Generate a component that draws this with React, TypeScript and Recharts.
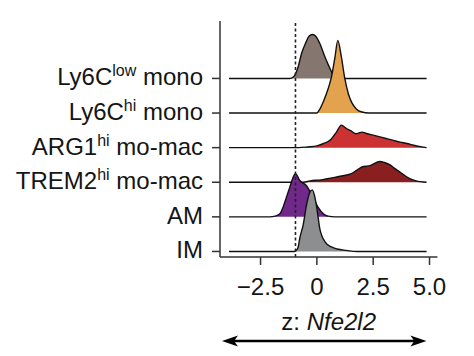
import React from 'react'
import { ComposedChart, Area, Line, XAxis, YAxis } from 'recharts'

// rows from bottom (offset 0) to top
const rowBase = ['IM', 'AM', 'TREM2', 'ARG1', 'Ly6C', 'Ly6C']
const rowSup = ['', '', 'hi', 'hi', 'hi', 'low']
const rowSuffix = ['', '', ' mo-mac', ' mo-mac', ' mono', ' mono']
const rowColors = ['#8d8e90', '#70288a', '#8a1f20', '#cd3232', '#e2a24e', '#857770']

const xTickValues = [-2.5, 0, 2.5, 5]
const xTickLabels = ['\u22122.5', '0', '2.5', '5.0']
const cutoff = -0.95
const yDomain = [-0.16, 6.66]

// [z, density] pairs, density in row heights
const imDensity: [number, number][] = [[-3.9, 0], [-1.0, 0], [-0.9, 0.04], [-0.83, 0.13], [-0.76, 0.38], [-0.61, 0.76], [-0.46, 1.34], [-0.32, 1.7], [-0.2, 1.78], [-0.1, 1.6], [-0.01, 1.29], [0.13, 0.66], [0.36, 0.28], [0.65, 0.13], [0.9, 0.07], [1.3, 0.03], [1.8, 0], [4.87, 0]]
const amDensity: [number, number][] = [[-3.9, 0], [-2.1, 0], [-1.85, 0.02], [-1.64, 0.09], [-1.5, 0.28], [-1.35, 0.57], [-1.2, 0.86], [-1.05, 1.15], [-0.95, 1.25], [-0.76, 1.05], [-0.46, 0.9], [-0.2, 0.6], [0.05, 0.28], [0.3, 0.08], [0.5, 0.02], [0.8, 0], [4.87, 0]]
const trem2Density: [number, number][] = [[-3.9, 0], [-0.6, 0], [-0.3, 0.04], [0.2, 0.07], [0.6, 0.12], [1.1, 0.18], [1.5, 0.24], [1.8, 0.36], [2.0, 0.44], [2.36, 0.48], [2.8, 0.6], [3.0, 0.57], [3.25, 0.5], [3.45, 0.4], [3.7, 0.29], [4.1, 0.11], [4.4, 0.04], [4.87, 0]]
const arg1Density: [number, number][] = [[-3.9, 0], [-0.8, 0], [-0.4, 0.02], [0, 0.05], [0.3, 0.12], [0.58, 0.21], [0.87, 0.45], [1.09, 0.65], [1.3, 0.56], [1.5, 0.49], [1.75, 0.4], [1.85, 0.42], [2.0, 0.45], [2.2, 0.41], [2.5, 0.36], [2.8, 0.31], [3.1, 0.26], [3.4, 0.21], [3.7, 0.16], [4.0, 0.12], [4.3, 0.07], [4.6, 0.03], [4.87, 0]]
const ly6cHiDensity: [number, number][] = [[-3.9, 0], [0, 0], [0.1, 0.08], [0.3, 0.35], [0.5, 0.7], [0.65, 1.05], [0.8, 1.6], [0.93, 2.1], [1.08, 1.65], [1.24, 1.0], [1.4, 0.55], [1.55, 0.3], [1.75, 0.12], [2.0, 0.03], [2.3, 0], [4.87, 0]]
const ly6cLowDensity: [number, number][] = [[-3.9, 0], [-1.2, 0], [-1.05, 0.04], [-0.95, 0.13], [-0.83, 0.34], [-0.68, 0.72], [-0.5, 1.02], [-0.35, 1.22], [-0.2, 1.27], [-0.05, 1.22], [0.13, 1.01], [0.36, 0.62], [0.58, 0.29], [0.73, 0.1], [0.9, 0.02], [1.1, 0], [4.87, 0]]

const densities = [imDensity, amDensity, trem2Density, arg1Density, ly6cHiDensity, ly6cLowDensity]

const FONT = '"Liberation Sans", Arial, Helvetica, sans-serif'
const INK = '#151515'

const RowTick = (props: any) => {
  const { x, y, payload } = props
  const i = payload.value
  return (
    <text x={x} y={y} dy={7} textAnchor="end" fontSize={24} fill={INK} fontFamily={FONT} style={{ whiteSpace: 'pre' }}>
      <tspan>{rowBase[i]}</tspan>
      {rowSup[i] ? <tspan dy={-9} fontSize={16}>{rowSup[i]}</tspan> : null}
      {rowSuffix[i] ? <tspan dy={rowSup[i] ? 9 : 0}>{rowSuffix[i]}</tspan> : null}
    </text>
  )
}

const AxisTitle = (props: any) => {
  const { viewBox } = props
  const cx = viewBox.x + viewBox.width / 2
  const ty = viewBox.y + 73
  const ay = viewBox.y + 84
  const x1 = viewBox.x + 2
  const x2 = viewBox.x + viewBox.width - 11
  return (
    <g>
      <text x={cx} y={ty} textAnchor="middle" fontSize={24} fill={INK} fontFamily={FONT} style={{ whiteSpace: 'pre' }}>
        z: <tspan fontStyle="italic">Nfe2l2</tspan>
      </text>
      <line x1={x1 + 8} y1={ay} x2={x2 - 8} y2={ay} stroke="#000" strokeWidth={2.6} />
      <path d={`M${x1},${ay} L${x1 + 16},${ay - 5.5} L${x1 + 12},${ay} L${x1 + 16},${ay + 5.5} Z`} fill="#000" />
      <path d={`M${x2},${ay} L${x2 - 16},${ay - 5.5} L${x2 - 12},${ay} L${x2 - 16},${ay + 5.5} Z`} fill="#000" />
    </g>
  )
}

export default function App() {
  const order = [5, 4, 3, 2, 1, 0]
  return (
    <div style={{ position: 'absolute', left: 0, top: 0, background: '#fff' }}>
      <ComposedChart width={474} height={356} margin={{ top: 21, right: 36.6, bottom: 0, left: 0 }}>
        <XAxis
          dataKey="x"
          type="number"
          domain={[-4.3, 5.35]}
          allowDataOverflow
          ticks={xTickValues}
          tickFormatter={(v: number) => xTickLabels[xTickValues.indexOf(v)]}
          height={99}
          tickSize={8}
          tickMargin={13}
          stroke="#333"
          strokeWidth={1.5}
          tick={{ fontSize: 24, fill: INK, fontFamily: FONT }}
          label={<AxisTitle />}
        />
        <YAxis
          type="number"
          domain={yDomain}
          allowDataOverflow
          ticks={[0, 1, 2, 3, 4, 5]}
          width={220}
          tickSize={8}
          tickMargin={9}
          stroke="#333"
          strokeWidth={1.5}
          tick={<RowTick />}
        />
        <Line
          data={yDomain.map((y) => ({ x: cutoff, y }))}
          dataKey="y"
          type="linear"
          stroke="#222"
          strokeWidth={1.6}
          strokeDasharray="3 2.5"
          dot={false}
          activeDot={false}
          isAnimationActive={false}
        />
        {order.map((i) => (
          <Area
            key={i}
            data={densities[i].map(([x, d]) => ({ x, y: i + d }))}
            dataKey="y"
            type="monotone"
            baseValue={i}
            fill={rowColors[i]}
            fillOpacity={1}
            stroke="#111"
            strokeWidth={1.4}
            dot={false}
            activeDot={false}
            isAnimationActive={false}
          />
        ))}
      </ComposedChart>
    </div>
  )
}
